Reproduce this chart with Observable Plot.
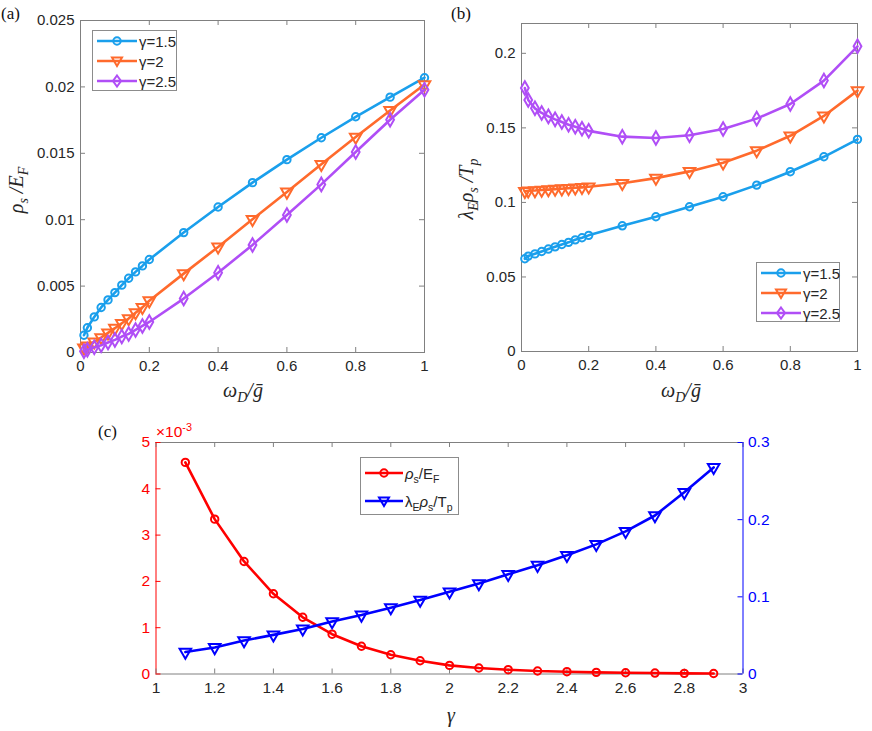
<!DOCTYPE html>
<html>
<head>
<meta charset="utf-8">
<script src="https://cdn.jsdelivr.net/npm/d3@7"></script>
<script src="https://cdn.jsdelivr.net/npm/@observablehq/plot@0.6"></script>
<style>
  html, body { margin: 0; padding: 0; background: #fff; }
  #root { position: relative; width: 872px; height: 731px; overflow: hidden; font-family: 'Liberation Sans', Arial, Helvetica, sans-serif; }
  .abs { position: absolute; }
  .lbl { position: absolute; font-family: 'Liberation Serif', 'Times New Roman', serif; font-style: italic; font-size: 20px; color: #262626; white-space: nowrap; line-height: 1; }
  .plbl { position: absolute; font-family: 'Liberation Serif', 'Times New Roman', serif; font-size: 17px; color: #111; line-height: 1; }
  .legend { position: absolute; background: #fff; border: 1px solid #8c8c8c; box-sizing: border-box; font-size: 15px; color: #262626; }
  .legend .row { display: flex; align-items: center; }
  .legend svg { display: block; }
  sub { font-size: 70%; vertical-align: -0.35em; line-height: 0; }
  sup { font-size: 70%; vertical-align: 0.6em; line-height: 0; }
</style>
</head>
<body>
<div id="root"></div>
<script>
// ---------- data ----------
const omegaD = [0.01, 0.02, 0.04, 0.06, 0.08, 0.1, 0.12, 0.14, 0.16, 0.18, 0.2, 0.3, 0.4, 0.5, 0.6, 0.7, 0.8, 0.9, 1.0];

// panel (a): rho_s / E_F
const rhoA_g15 = [0.0013, 0.00186, 0.00268, 0.00339, 0.00396, 0.00451, 0.00507, 0.00559, 0.00607, 0.00652, 0.0070, 0.00903, 0.01096, 0.01279, 0.01452, 0.01617, 0.01775, 0.01923, 0.02069];
const rhoA_g2  = [0.00035, 0.0005, 0.0008, 0.00113, 0.00148, 0.00183, 0.0022, 0.00256, 0.003, 0.0034, 0.0039, 0.00594, 0.00795, 0.01003, 0.01209, 0.01417, 0.01622, 0.01823, 0.02018];
const rhoA_g25 = [0.0001, 0.0002, 0.0004, 0.00055, 0.00075, 0.00095, 0.0012, 0.0014, 0.0017, 0.002, 0.0023, 0.00406, 0.006, 0.0081, 0.01036, 0.01266, 0.0151, 0.01753, 0.01978];

// panel (b): lambda_E rho_s / T_p
const lamB_g15 = [0.0622, 0.064, 0.0655, 0.0671, 0.0687, 0.0702, 0.0718, 0.0732, 0.0749, 0.0763, 0.0779, 0.0843, 0.0904, 0.0971, 0.1038, 0.1116, 0.1206, 0.1306, 0.1423];
const lamB_g2  = [0.1075, 0.1078, 0.108, 0.1083, 0.1086, 0.1089, 0.1092, 0.1095, 0.1098, 0.1101, 0.1105, 0.1128, 0.1163, 0.1208, 0.1266, 0.1347, 0.1447, 0.158, 0.175];
const lamB_g25 = [0.1767, 0.1687, 0.1631, 0.160, 0.1577, 0.1557, 0.1539, 0.1521, 0.1508, 0.1494, 0.148, 0.1441, 0.1432, 0.145, 0.1492, 0.1562, 0.166, 0.1817, 0.2047];

// panel (c): vs gamma
const gammas = [1.1, 1.2, 1.3, 1.4, 1.5, 1.6, 1.7, 1.8, 1.9, 2.0, 2.1, 2.2, 2.3, 2.4, 2.5, 2.6, 2.7, 2.8, 2.9];
const rhoC = [4.57e-3, 3.345e-3, 2.43e-3, 1.733e-3, 1.225e-3, 0.86e-3, 0.60e-3, 0.415e-3, 0.287e-3, 0.186e-3, 0.13e-3, 0.093e-3, 0.064e-3, 0.05e-3, 0.036e-3, 0.028e-3, 0.02e-3, 0.014e-3, 0.01e-3];
const lamC = [0.0284, 0.0344, 0.0434, 0.0507, 0.0584, 0.0679, 0.0765, 0.086, 0.0958, 0.1066, 0.1173, 0.1293, 0.141, 0.1539, 0.168, 0.1848, 0.2054, 0.2355, 0.2677];

// ticks
const ticksAB_x = [0, 0.2, 0.4, 0.6, 0.8, 1];
const ticksA_y = [0, 0.005, 0.01, 0.015, 0.02, 0.025];
const ticksB_y = [0, 0.05, 0.1, 0.15, 0.2];
const ticksC_x = [1, 1.2, 1.4, 1.6, 1.8, 2, 2.2, 2.4, 2.6, 2.8, 3];
const ticksC_yL = [0, 0.001, 0.002, 0.003, 0.004, 0.005];
const ticksC_yR = [0, 0.1, 0.2, 0.3];

const seriesNames = ["γ=1.5", "γ=2", "γ=2.5"];
const seriesColors = ["#1a9fec", "#ff6a2c", "#b04ef6"];
const seriesSymbols = ["circle", "triangle", "diamond"];

// ---------- helpers ----------
const FONT = "'Liberation Sans', Arial, Helvetica, sans-serif";
const GRAY = "#808080";
const TXT = "#262626";
const root = document.getElementById("root");

function rowsOf(xs, ys) { return xs.map((x, i) => ({x, y: ys[i]})); }

function seriesMarks(rows, color, symbol) {
  const dotOpts = {x: "x", y: "y", stroke: color, fill: "none", strokeWidth: 2};
  if (symbol === "circle") Object.assign(dotOpts, {symbol: "circle", r: 3.7});
  if (symbol === "triangle") Object.assign(dotOpts, {symbol: "triangle", r: 4.3, rotate: 180});
  if (symbol === "diamond") Object.assign(dotOpts, {symbol: "diamond", r: 4.1});
  return [
    Plot.line(rows, {x: "x", y: "y", stroke: color, strokeWidth: 2.6}),
    Plot.dot(rows, dotOpts)
  ];
}

function place(el, left, top) {
  el.style.position = "absolute";
  el.style.left = left + "px";
  el.style.top = top + "px";
  root.appendChild(el);
}

function panelAB({W, H, mL, mR, mT, mB, yDomain, yTicks, series}) {
  const fw = W - mL - mR, fh = H - mT - mB;
  return Plot.plot({
    width: W, height: H, marginLeft: mL, marginRight: mR, marginTop: mT, marginBottom: mB,
    x: {domain: [0, 1]},
    y: {domain: yDomain},
    style: {fontFamily: FONT, fontSize: "15px", color: TXT, background: "transparent", overflow: "visible"},
    marks: [
      Plot.frame({stroke: GRAY, strokeWidth: 1}),
      Plot.tickX(ticksAB_x, {x: d => d, stroke: GRAY, insetTop: fh - 5}),
      Plot.tickX(ticksAB_x, {x: d => d, stroke: GRAY, insetBottom: fh - 5}),
      Plot.tickY(yTicks, {y: d => d, stroke: GRAY, insetRight: fw - 5}),
      Plot.tickY(yTicks, {y: d => d, stroke: GRAY, insetLeft: fw - 5}),
      Plot.axisX({ticks: ticksAB_x, tickSize: 0, tickPadding: 8, tickFormat: d => String(d), label: null, color: TXT}),
      Plot.axisY({ticks: yTicks, tickSize: 0, tickPadding: 6, tickFormat: d => String(d), label: null, color: TXT}),
      ...series.flatMap(s => seriesMarks(rowsOf(omegaD, s.values), s.color, s.symbol))
    ]
  });
}

function symbolSVG(color, symbol, w) {
  const c = w / 2, y = 8;
  let m = "";
  if (symbol === "circle") m = `<circle cx="${c}" cy="${y}" r="3.7" fill="none" stroke="${color}" stroke-width="2"/>`;
  if (symbol === "triangle") m = `<path d="M${c-5},${y-3.5} L${c+5},${y-3.5} L${c},${y+5} Z" fill="none" stroke="${color}" stroke-width="2"/>`;
  if (symbol === "diamond") m = `<path d="M${c},${y-5.5} L${c+4},${y} L${c},${y+5.5} L${c-4},${y} Z" fill="none" stroke="${color}" stroke-width="2"/>`;
  return `<svg width="${w}" height="16"><line x1="0" x2="${w}" y1="${y}" y2="${y}" stroke="${color}" stroke-width="2.6"/>${m}</svg>`;
}

function legend(left, top, width, height, rowH, padTop, svgW, items) {
  const d = document.createElement("div");
  d.className = "legend";
  Object.assign(d.style, {left: left + "px", top: top + "px", width: width + "px", height: height + "px", paddingTop: padTop + "px"});
  d.innerHTML = items.map(it =>
    `<div class="row" style="height:${rowH}px"><div style="margin-left:4px">${symbolSVG(it.color, it.symbol, svgW)}</div><div style="margin-left:2px">${it.html}</div></div>`
  ).join("");
  root.appendChild(d);
}

function textDiv(cls, html, left, top, transform) {
  const d = document.createElement("div");
  d.className = cls;
  d.innerHTML = html;
  d.style.left = left + "px";
  d.style.top = top + "px";
  if (transform) d.style.transform = transform;
  root.appendChild(d);
  return d;
}

// ---------- panel (a) ----------
const svgA = panelAB({
  W: 440, H: 410, mL: 80, mR: 16, mT: 20, mB: 58,
  yDomain: [0, 0.025], yTicks: ticksA_y,
  series: [
    {values: rhoA_g15, color: seriesColors[0], symbol: seriesSymbols[0]},
    {values: rhoA_g2, color: seriesColors[1], symbol: seriesSymbols[1]},
    {values: rhoA_g25, color: seriesColors[2], symbol: seriesSymbols[2]}
  ]
});
place(svgA, 0, 0);

// ---------- panel (b) ----------
const svgB = panelAB({
  W: 432, H: 410, mL: 81, mR: 15, mT: 23, mB: 59,
  yDomain: [0, 0.22], yTicks: ticksB_y,
  series: [
    {values: lamB_g15, color: seriesColors[0], symbol: seriesSymbols[0]},
    {values: lamB_g2, color: seriesColors[1], symbol: seriesSymbols[1]},
    {values: lamB_g25, color: seriesColors[2], symbol: seriesSymbols[2]}
  ]
});
place(svgB, 440, 0);

// ---------- panel (c) ----------
const RED = "#ff0000", BLUE = "#0000ff";
const C = {W: 872, H: 316, mL: 155.5, mR: 129.5, mT: 27, mB: 57.5};
const cfw = C.W - C.mL - C.mR, cfh = C.H - C.mT - C.mB;
const xDomC = [ticksC_x[0], ticksC_x[ticksC_x.length - 1]];
const yDomCL = [ticksC_yL[0], ticksC_yL[ticksC_yL.length - 1]];
const yDomCR = [ticksC_yR[0], ticksC_yR[ticksC_yR.length - 1]];

const svgC1 = Plot.plot({
  width: C.W, height: C.H, marginLeft: C.mL, marginRight: C.mR, marginTop: C.mT, marginBottom: C.mB,
  x: {domain: xDomC},
  y: {domain: yDomCL},
  style: {fontFamily: FONT, fontSize: "15.5px", color: TXT, background: "transparent", overflow: "visible"},
  marks: [
    Plot.ruleY(yDomCL, {y: d => d, stroke: GRAY}),
    Plot.ruleX([xDomC[0]], {x: d => d, stroke: RED}),
    Plot.tickX(ticksC_x, {x: d => d, stroke: GRAY, insetTop: cfh - 5}),
    Plot.tickX(ticksC_x, {x: d => d, stroke: GRAY, insetBottom: cfh - 5}),
    Plot.tickY(ticksC_yL, {y: d => d, stroke: RED, insetRight: cfw - 5}),
    Plot.axisX({ticks: ticksC_x, tickSize: 0, tickPadding: 8, tickFormat: d => String(d), label: null, color: TXT}),
    Plot.axisY({ticks: ticksC_yL, tickSize: 0, tickPadding: 6, tickFormat: d => String(Math.round(d * 1000)), label: null, color: RED}),
    ...seriesMarks(rowsOf(gammas, rhoC), RED, "circle")
  ]
});
place(svgC1, 0, 415);

const svgC2 = Plot.plot({
  width: C.W, height: C.H, marginLeft: C.mL, marginRight: C.mR, marginTop: C.mT, marginBottom: C.mB,
  x: {domain: xDomC, axis: null},
  y: {domain: yDomCR},
  style: {fontFamily: FONT, fontSize: "15.5px", color: BLUE, background: "transparent", overflow: "visible"},
  marks: [
    Plot.ruleX([xDomC[1]], {x: d => d, stroke: BLUE}),
    Plot.tickY(ticksC_yR, {y: d => d, stroke: BLUE, insetLeft: cfw - 5}),
    Plot.axisY({anchor: "right", ticks: ticksC_yR, tickSize: 0, tickPadding: 5, tickFormat: d => String(d), label: null, color: BLUE}),
    ...seriesMarks(rowsOf(gammas, lamC), BLUE, "triangle")
  ]
});
place(svgC2, 0, 415);

// ---------- text labels ----------
textDiv("plbl", "(a)", 1, 5);
textDiv("plbl", "(b)", 451, 5);
textDiv("plbl", "(c)", 98, 423);

textDiv("lbl", "ρ<sub>s</sub> /<i>E</i><sub>F</sub>", 16, 190, "translate(-50%,-50%) rotate(-90deg)");
textDiv("lbl", "λ<sub>E</sub>ρ<sub>s</sub> /<i>T</i><sub>p</sub>", 466, 189, "translate(-50%,-50%) rotate(-90deg)");
textDiv("lbl", "ω<sub>D</sub>/ḡ", 243, 390, "translate(-50%,-50%)");
textDiv("lbl", "ω<sub>D</sub>/ḡ", 681, 390, "translate(-50%,-50%)");
textDiv("lbl", "γ", 451, 715, "translate(-50%,-50%)");

const mult = textDiv("abs", "×10<sup>-3</sup>", 156, 424);
Object.assign(mult.style, {color: RED, fontSize: "15.5px", lineHeight: "1"});

// ---------- legends ----------
const abItems = seriesNames.map((n, i) => ({html: n, color: seriesColors[i], symbol: seriesSymbols[i]}));
legend(92, 30, 85, 61, 20, 0, 40, abItems);
legend(756, 262, 84, 60, 20, 0, 40, abItems);
legend(360, 457, 99, 58, 28, 1, 38, [
  {html: "<i>ρ</i><sub>s</sub>/E<sub>F</sub>", color: RED, symbol: "circle"},
  {html: "λ<sub>E</sub><i>ρ</i><sub>s</sub>/T<sub>p</sub>", color: BLUE, symbol: "triangle"}
]);
</script>
</body>
</html>
